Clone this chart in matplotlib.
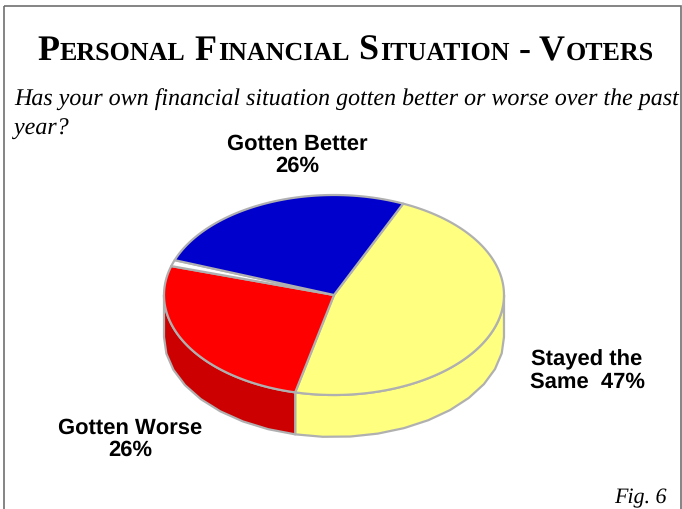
import numpy as np
import matplotlib
matplotlib.use("Agg")
import matplotlib.pyplot as plt
from matplotlib.patches import Polygon, Rectangle

plt.rcParams["text.hinting"] = "no_hinting"
plt.rcParams["text.hinting_factor"] = 1

# slices clockwise from the blue/yellow border
slice_names = ["Stayed the\nSame  47%", "Gotten Worse\n26%", "", "Gotten Better\n26%"]
slice_values = [47, 26, 1, 26]
slice_colors = ["#ffff80", "#ff0000", "#ffffff", "#0000cc"]
side_colors = ["#ffff80", "#cc0000", "#ffffff", "#0000cc"]

title_text = "Personal Financial Situation - Voters"
question_lines = ["Has your own financial situation gotten better or worse over the past", "year?"]
fig_note = "Fig. 6"

W, H = 682, 509
cx, cy, rx, ry = 334, 295, 170, 100
depth = 42
start_angle = 66
edge = "#b0b0b0"

fig = plt.figure(figsize=(W / 100, H / 100), dpi=100)
ax = fig.add_axes([0, 0, 1, 1])
ax.set_xlim(0, W)
ax.set_ylim(H, 0)
ax.axis("off")


def rim(a0, a1, step=1.0, drop=0):
    n = max(2, int(abs(a1 - a0) / step) + 1)
    t = np.radians(np.linspace(a0, a1, n))
    return np.column_stack([cx + rx * np.cos(t), cy + ry * np.sin(-t) + drop])


# frame (only left, top and right are inside the page)
ax.add_patch(Rectangle((4, 6), 677, 520, fill=False, ec="#707070", lw=1.2, clip_on=True))

angles = start_angle - np.cumsum([0] + slice_values) * 3.6

# the rim: only the front half shows
for i in range(len(slice_values)):
    a0, a1 = angles[i], angles[i + 1]
    a0v, a1v = min(a0, 0), max(a1, -180)
    if a0v <= a1v:
        continue
    top = rim(a0v, a1v)
    bottom = rim(a1v, a0v, step=9, drop=depth)
    ax.add_patch(Polygon(np.vstack([top, bottom]), closed=True, fc=side_colors[i],
                         ec=edge, lw=1.6, joinstyle="round", zorder=2))

# the top face
for i in range(len(slice_values)):
    pts = np.vstack([[cx, cy], rim(angles[i], angles[i + 1])])
    ax.add_patch(Polygon(pts, closed=True, fc=slice_colors[i], ec=edge, lw=1.6,
                         joinstyle="round", zorder=3))

# small caps title, laid out piece by piece
fig.canvas.draw()
renderer = fig.canvas.get_renderer()
x = 37.0
pieces = []
for ch in title_text:
    big = not ch.islower()
    if pieces and pieces[-1][1] == big:
        pieces[-1][0] += ch.upper()
    else:
        pieces.append([ch.upper(), big])
for s, big in pieces:
    t = ax.text(x, 60, s, family="Liberation Serif", weight="bold",
                fontsize=26 if big else 19, ha="left", va="baseline", color="#000000")
    x += t.get_window_extent(renderer).width + 0.7

for line, y in zip(question_lines, [106, 135]):
    ax.text(14, y, line, family="Liberation Serif", style="italic",
            fontsize=17.45, ha="left", va="baseline", color="#000000")

label_pos = {0: (587, 371), 1: (130, 439), 3: (297, 155)}
for i, pos in label_pos.items():
    ax.text(pos[0], pos[1], slice_names[i], family="Liberation Sans", weight="bold",
            fontsize=15.8, ha="center", va="center", linespacing=1.12, color="#000000")

ax.text(640, 503, fig_note, family="Liberation Serif", style="italic", fontsize=15.5,
        ha="center", va="baseline", color="#000000")

fig.savefig("out.png", dpi=100)
